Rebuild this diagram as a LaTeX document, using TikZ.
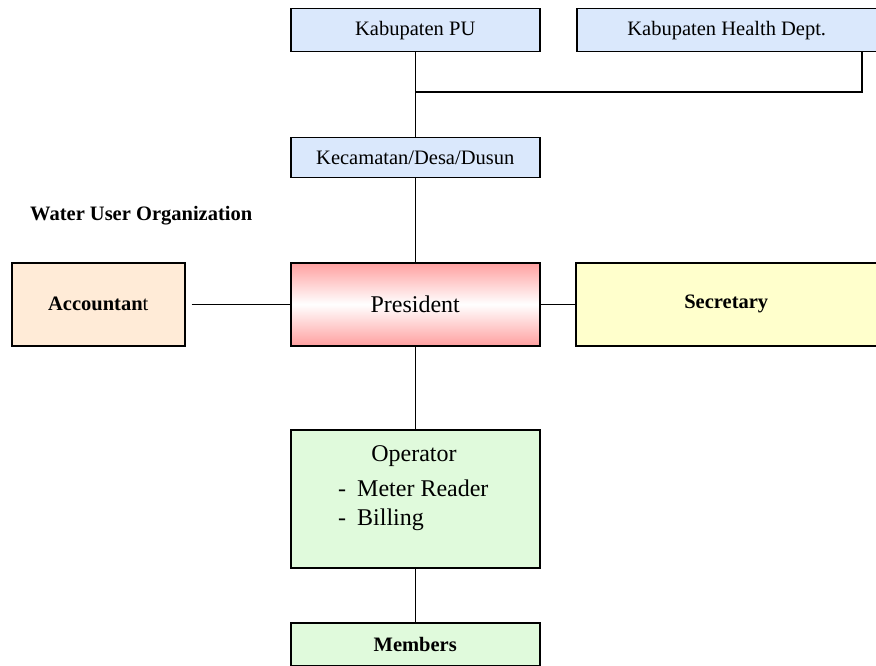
\documentclass[tikz,border=0pt]{standalone}
\usepackage{fontspec}
\setmainfont{Liberation Serif}
\definecolor{govblue}{HTML}{DAE8FC}
\definecolor{accfill}{HTML}{FFEBD7}
\definecolor{secfill}{HTML}{FFFFCC}
\definecolor{opfill}{HTML}{E0FADC}
\definecolor{presred}{HTML}{FFA0A0}
\begin{document}
\begin{tikzpicture}[x=1pt,y=-1pt,
  box/.style={draw=black,line width=1.5pt,inner sep=0pt,anchor=north west,
    font=\fontsize{20.5}{24}\selectfont},
  big/.style={font=\fontsize{24}{28}\selectfont},
  link/.style={draw=black,line width=1.5pt}]
\useasboundingbox (0,0) rectangle (876,666);
% government level
\node[box,fill=govblue,minimum width=249pt,minimum height=43pt] (pu) at (290,8)
  {Kabupaten PU};
\node[box,fill=govblue,minimum width=300pt,minimum height=43pt] (health) at (576,8)
  {Kabupaten Health Dept.};
\node[box,fill=govblue,minimum width=249pt,minimum height=40pt] (kec) at (290,137)
  {Kecamatan/Desa/Dusun};
% organisation title
\node[anchor=base west,inner sep=0pt,font=\fontsize{20.5}{24}\selectfont\bfseries]
  (wuo) at (30,220) {Water User Organization};
% organisation level
\node[box,fill=accfill,minimum width=173pt,minimum height=83pt] (acc) at (11,262)
  {\textbf{Accountan}t};
\node[box,big,top color=presred,bottom color=presred,middle color=white,
  minimum width=249pt,minimum height=83pt] (pres) at (290,262) {President};
\node[box,fill=secfill,minimum width=301pt,minimum height=83pt] (sec) at (575,262)
  {\bfseries Secretary};
\node[box,fill=opfill,minimum width=249pt,minimum height=138pt] (op) at (290,429) {};
\node[big,anchor=base,inner sep=0pt] (optitle) at (414,461) {Operator};
\node[big,anchor=base west,inner sep=0pt] (opdash1) at (338,496) {-};
\node[big,anchor=base west,inner sep=0pt] (opmeter) at (357,496) {Meter Reader};
\node[big,anchor=base west,inner sep=0pt] (opdash2) at (338,525) {-};
\node[big,anchor=base west,inner sep=0pt] (opbill) at (357,525) {Billing};
\node[box,fill=opfill,minimum width=249pt,minimum height=43pt] (mem) at (290,622)
  {\bfseries Members};
% connectors
\coordinate (join) at (pu.south |- 0,92);
\draw[link] (pu.south) -- (kec.north);
\draw[link] (health.south -| 862,0) |- (join);
\draw[link] (kec.south) -- (pres.north);
\draw[link] ([xshift=6pt]acc.east) -- (pres.west);
\draw[link] (pres.east) -- (sec.west);
\draw[link] (pres.south) -- (op.north);
\draw[link] (op.south) -- (mem.north);
\end{tikzpicture}
\end{document}
